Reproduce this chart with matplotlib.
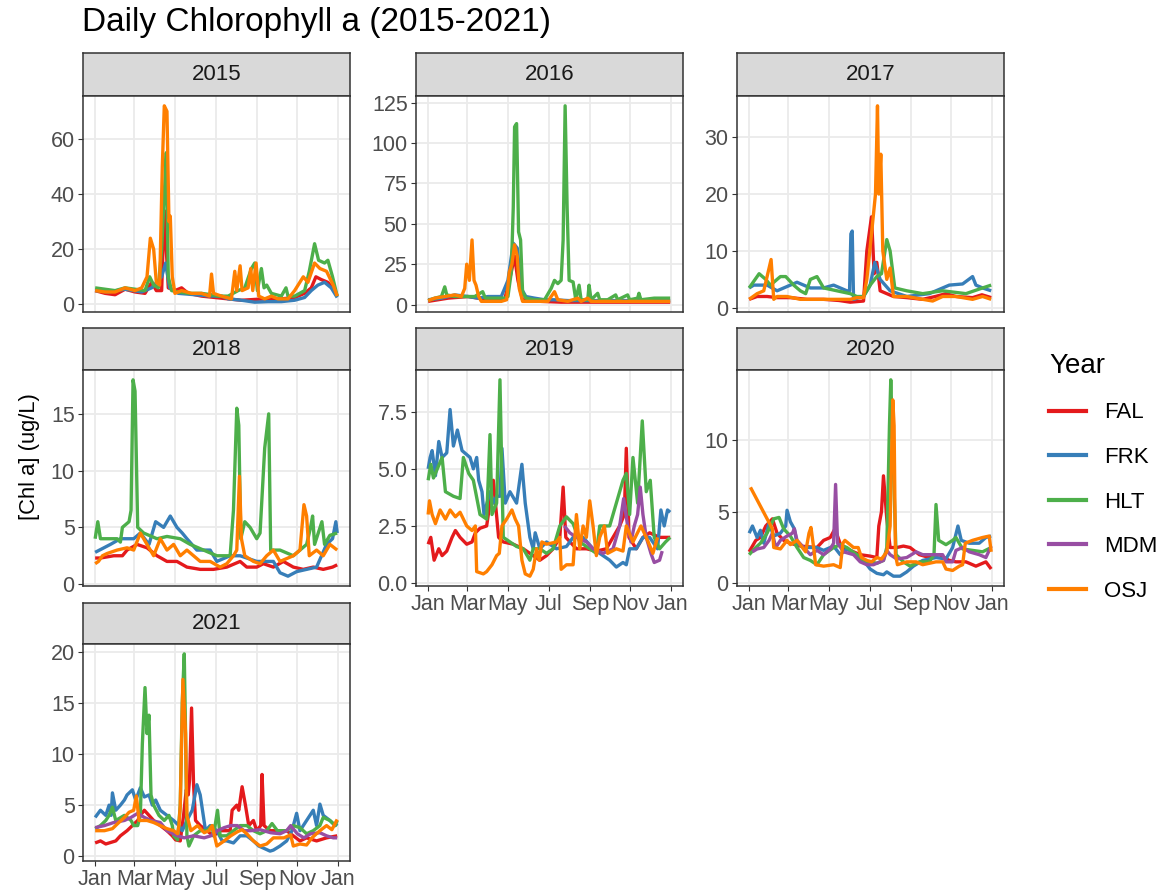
import matplotlib
matplotlib.use("Agg")
import matplotlib.pyplot as plt
from matplotlib.lines import Line2D
from matplotlib.ticker import FixedLocator, FixedFormatter

plt.rcParams['font.family'] = ['Liberation Sans', 'DejaVu Sans']

# ---------------- data (day of year, Chl a ug/L) ----------------
stations = ['FAL', 'FRK', 'HLT', 'MDM', 'OSJ']
station_colors = ['#E41A1C', '#377EB8', '#4DAF4A', '#984EA3', '#FF7F00']
years = [2015, 2016, 2017, 2018, 2019, 2020, 2021]
month_ticks = [0, 59, 120, 181, 243, 304, 365]
month_labels = ['Jan', 'Mar', 'May', 'Jul', 'Sep', 'Nov', 'Jan']
ytick_2015 = [0, 20, 40, 60]
ytick_2016 = [0, 25, 50, 75, 100, 125]
ytick_2017 = [0, 10, 20, 30]
ytick_2018 = [0, 5, 10, 15]
ytick_2019 = [0.0, 2.5, 5.0, 7.5]
ytick_2020 = [0, 5, 10]
ytick_2021 = [0, 5, 10, 15, 20]

FAL_2015 = [(0,5),(15,4),(30,3.5),(45,5.5),(60,4.5),(75,4),(85,8),(92,5),(100,5),(104,34),(107,20),(110,6),(120,5),(130,6),(140,4),(160,3),(180,2.5),(200,2),(220,1.5),(240,1.8),(260,2),(280,2),(300,2.5),(315,4),(325,6),(332,10),(340,9),(350,8),(360,5),(364,3)]
FRK_2015 = [(0,5),(20,4.5),(45,5.5),(70,4.5),(85,6),(100,10),(106,15),(112,6),(125,4),(150,3.5),(175,3),(190,3),(200,2),(220,1.5),(240,0.8),(260,1),(280,1),(300,1.5),(315,2.5),(325,5),(335,7),(345,8),(355,6),(364,2.5)]
HLT_2015 = [(0,6),(15,5.5),(30,5),(45,6),(60,5.5),(75,5),(82,10),(88,7),(95,6),(100,20),(104,40),(107,55),(110,10),(115,5),(125,4.5),(140,4),(160,4),(175,3.5),(185,3),(200,3),(215,5),(225,6),(235,13),(240,15),(244,5),(250,13),(254,6),(258,7),(265,4),(280,3),(287,6),(290,3),(300,3),(315,5),(322,12),(330,22),(336,16),(345,15),(350,16),(357,10),(364,3)]
OSJ_2015 = [(0,5),(15,4.5),(30,4.5),(45,6),(60,5),(70,6),(78,10),(83,24),(88,20),(92,8),(97,7),(101,50),(104,72),(108,70),(111,30),(113,32),(116,10),(120,4),(130,5),(145,4),(160,4),(172,3),(175,11),(178,4),(190,3),(205,2),(210,12),(213,5),(218,14),(221,5),(230,6),(234,13),(237,5),(242,15),(246,3),(255,2),(265,3),(275,2),(290,2),(300,5),(313,10),(320,8),(330,15),(338,13),(348,12),(358,7),(364,3)]

FAL_2016 = [(0,2),(30,4),(60,5),(90,3),(115,3),(125,20),(130,30),(135,15),(142,3),(170,2),(200,1.5),(250,1.5),(300,1.5),(364,1.5)]
FRK_2016 = [(0,3),(20,4),(40,6),(60,5),(75,4),(90,5),(110,5),(120,15),(128,38),(134,35),(140,10),(147,5),(160,4),(175,3),(190,3),(210,2.5),(250,2.5),(300,2.5),(364,2.5)]
HLT_2016 = [(0,2.5),(10,4),(20,5),(25,11),(28,6),(40,5),(55,5),(70,5),(82,8),(86,4),(100,4),(115,4),(120,5),(125,20),(128,60),(130,110),(133,112),(136,45),(139,40),(142,8),(147,4),(160,3),(175,3),(185,10),(190,15),(195,13),(200,15),(203,40),(206,123),(209,60),(212,15),(218,14),(222,3),(227,12),(230,3),(240,3),(242,12),(245,3),(255,7),(258,3),(270,3),(282,6),(285,3),(300,6),(303,3),(315,4),(317,7),(320,3),(340,4),(364,4)]
OSJ_2016 = [(0,2.5),(10,4),(25,5),(40,6),(50,5),(55,10),(58,25),(62,15),(66,40),(69,15),(72,12),(76,5),(80,2),(95,2),(110,2),(118,3),(122,20),(126,25),(130,37),(134,30),(137,10),(142,2),(160,2),(180,2),(190,8),(195,3),(210,2),(225,4),(230,2),(240,4),(245,2),(280,2),(320,2),(364,2)]

FAL_2017 = [(0,1.5),(12,2),(27,2),(42,1.8),(62,1.8),(87,1.5),(112,1.5),(135,1.3),(152,1),(172,1.2),(177,10),(184,16),(188,6),(192,8),(197,3),(217,2),(237,1.8),(261,1.5),(280,2),(296,2.5),(311,2),(336,1.8),(350,2.3),(364,1.8)]
FRK_2017 = [(0,3.5),(7,4),(27,4),(42,3),(62,4),(72,4.5),(92,3.5),(112,3.5),(127,4),(147,3),(151,3),(153,13),(155,13.5),(157,1.5),(172,2),(182,4),(189,8),(197,5),(212,3),(237,2),(271,2.5),(301,4),(321,4.2),(336,5.5),(341,4),(351,3.5),(364,3)]
HLT_2017 = [(0,3.5),(15,6),(25,5),(32,4),(47,5.5),(55,5.5),(67,4),(77,3),(85,2.5),(92,5),(102,5.5),(112,3.5),(132,3),(152,2.5),(162,2),(172,2),(182,4),(192,5.5),(199,6),(207,12),(212,10),(219,3.5),(237,3),(261,2.5),(291,3),(326,2.5),(351,3.5),(364,4)]
OSJ_2017 = [(0,1.5),(12,2.5),(22,3),(33,8.5),(37,1.5),(42,2),(57,2),(77,1.5),(100,1.5),(120,1.5),(152,1.5),(162,1.8),(172,1.8),(177,5),(184,13),(190,20),(193,35.5),(195,20),(198,27),(201,10),(207,5),(212,7),(217,2),(237,2),(261,1.5),(276,1.2),(291,2),(311,2),(336,1.5),(351,2),(364,1.5)]

FAL_2018 = [(0,2.3),(8,2.3),(28,2.5),(41,2.5),(48,3),(63,3.5),(78,3.2),(93,2.5),(108,2),(123,2),(138,1.5),(158,1.3),(178,1.3),(198,1.5),(218,2),(228,1.5),(243,1.5),(253,1.8),(268,1.5),(283,2),(298,1.5),(313,1.3),(328,1.5),(343,1.3),(357,1.5),(364,1.7)]
FRK_2018 = [(0,2.8),(23,3.5),(38,4),(58,4),(68,4.5),(81,3.5),(91,5.5),(103,5),(113,6),(123,5),(131,4.5),(138,4),(153,3),(173,3),(183,2),(203,2.5),(218,2.5),(243,2),(268,2),(278,1),(290,0.7),(303,1.1),(318,1.3),(333,1.5),(348,3.5),(357,4),(362,5.5),(364,4.5)]
HLT_2018 = [(0,4),(4,5.5),(8,4),(18,4),(33,4),(38,3.7),(41,5),(51,5.5),(54,6.5),(57,18),(60,17),(64,5),(73,4.5),(93,4),(108,4.2),(128,4),(143,3.5),(163,3),(183,2.5),(203,2.5),(208,6.5),(213,15.5),(216,14),(219,4),(225,5.5),(233,5),(243,4),(248,4.5),(255,12),(261,15),(264,3),(278,3),(298,2.5),(308,3),(318,3.5),(324,5),(327,6),(330,3.5),(341,5.5),(345,3.5),(353,4.3),(364,4.5)]
OSJ_2018 = [(0,1.8),(5,2),(11,2.5),(18,2.7),(33,3),(48,3.2),(58,3),(68,4.5),(78,3.5),(88,2.5),(98,4),(108,3),(118,3.5),(128,2.5),(138,3),(148,2.5),(158,2),(173,2),(188,1.5),(198,1.8),(208,2.5),(213,3),(217,9.5),(220,4),(225,2.5),(238,2),(248,1.8),(258,2.5),(268,3),(278,2),(298,2.5),(308,3),(314,7),(318,6),(322,2.5),(333,3),(343,2.5),(353,3.5),(364,3)]

FAL_2019 = [(0,1.7),(4,2),(9,1),(16,1.5),(21,1.2),(28,1.4),(36,2),(41,2.3),(48,2),(58,1.7),(66,1.8),(71,2.2),(78,2.4),(88,2.5),(98,4.5),(106,2),(113,1.8),(128,1.7),(143,1.5),(153,1.3),(168,1),(178,1.2),(188,1.5),(198,2),(203,4.2),(207,2),(223,1.5),(238,1.5),(253,1.4),(268,1.5),(278,2),(288,2.5),(295,3),(298,5.9),(302,2),(313,1.5),(323,2),(333,2.2),(348,2),(364,2)]
FRK_2019 = [(0,5),(3,5.5),(6,5.8),(11,4.7),(16,6.2),(21,5.5),(28,5.7),(33,7.6),(38,6),(44,6.7),(51,5.8),(63,5.5),(68,5),(73,5.5),(76,4.5),(81,4),(84,3),(93,4),(98,3.5),(103,3.8),(108,3.8),(111,5.9),(116,3.5),(123,4),(133,3.5),(141,5.2),(146,3.5),(153,2),(158,1.5),(161,2.2),(168,1.5),(178,1.8),(193,1.5),(208,1.6),(218,2),(233,2),(248,1.5),(263,1.2),(273,1),(283,0.7),(293,0.9),(298,0.8),(303,1.5),(313,1.5),(323,2),(333,2),(345,1.5),(350,3.2),(355,2.5),(360,3.2),(364,3.1)]
HLT_2019 = [(0,4.5),(4,5.2),(8,4.6),(21,5.5),(26,4),(38,3.8),(48,3.7),(53,5.5),(61,4.8),(68,4.5),(78,3),(88,2.8),(93,6.5),(96,3),(103,3.5),(108,8.9),(111,4.5),(113,2),(123,1.8),(133,1.6),(143,1.5),(153,1),(158,1.5),(168,1.5),(178,1.3),(188,1.5),(198,2.5),(208,2.9),(218,2.6),(223,2.2),(228,1.8),(243,1.5),(253,1.3),(258,2.5),(273,2.5),(283,3.5),(293,4.5),(298,4.8),(303,3),(308,5.5),(315,3.5),(322,7.1),(328,4),(334,4.5),(340,2),(348,1.5),(357,1.8),(364,2)]
MDM_2019 = [(205,2.5),(213,2.2),(223,2),(238,1.8),(248,1.5),(263,1.3),(278,1.5),(288,2.5),(294,3.7),(300,2.5),(305,1.8),(310,2.5),(315,3),(319,4.2),(323,3),(328,2),(335,1.3),(340,0.9),(348,1),(352,1.4)]
OSJ_2019 = [(0,3),(2,3.6),(6,3),(11,2.6),(18,3.2),(26,2.8),(33,3.2),(41,2.9),(48,3.1),(58,2.5),(66,2.3),(71,2.5),(73,0.5),(83,0.4),(88,0.5),(96,0.8),(103,1.2),(107,1.3),(111,2.5),(118,2.8),(126,3.2),(131,2.8),(136,2.5),(141,1),(146,0.4),(153,0.3),(158,0.6),(163,1.5),(167,1),(171,1.8),(178,1.7),(193,1.8),(198,2),(200,0.6),(208,0.8),(218,0.8),(223,3),(228,1.5),(233,2.5),(238,2),(243,3.6),(248,2.5),(253,1.2),(258,2),(265,2.5),(270,1.3),(283,1.5),(293,1.4),(298,2.5),(308,1.8),(320,2.5),(328,2),(338,1.3),(345,2)]

FAL_2020 = [(0,2.2),(10,3),(17,3.2),(25,4),(35,4.5),(42,3.5),(52,3),(62,2.8),(77,2.6),(102,2.5),(112,3),(122,3.2),(129,3.8),(139,2.5),(152,2.3),(167,2),(182,1.9),(192,1.8),(195,4),(199,5),(202,7.5),(207,4.5),(212,2.5),(222,2.5),(232,2.6),(242,2.5),(256,2),(271,1.8),(286,2),(301,1.6),(311,1.5),(326,1.5),(341,1.2),(356,1.5),(364,1)]
FRK_2020 = [(0,3.5),(5,4),(12,3.2),(17,3.7),(22,2.8),(30,4.2),(37,3.3),(47,3.5),(55,4),(57,5.1),(62,4.3),(68,3.8),(72,2.8),(82,2.5),(102,2.5),(112,2.3),(127,2.6),(137,2),(147,2.4),(162,2),(177,1.3),(182,1),(192,0.7),(202,0.6),(207,0.8),(217,0.5),(227,0.5),(237,0.8),(247,1.2),(261,1.6),(281,1.8),(296,1.7),(306,2.5),(314,4),(319,3),(331,2.8),(346,2.8),(356,3.2),(364,3.3)]
HLT_2020 = [(0,2),(10,2.5),(17,2.8),(27,3.5),(37,4.5),(45,4.6),(52,3.8),(62,3.3),(72,2.5),(82,1.8),(92,1.6),(102,1.3),(112,2),(127,2.5),(137,2.7),(147,2.5),(162,2),(172,1.5),(182,1.5),(192,1.4),(202,1.6),(207,2.5),(211,11),(213,14.2),(217,8),(221,2),(232,1.5),(242,1.2),(256,1.5),(271,1.5),(278,2),(281,5.5),(285,3),(296,2.7),(306,3),(311,3.2),(321,2.4),(336,2.3),(351,2.2),(364,2.5)]
MDM_2020 = [(5,2.2),(12,2.4),(22,2.5),(30,3),(35,3.5),(40,2.5),(47,3),(57,3.3),(65,3.5),(68,3.8),(72,3),(82,2.5),(92,2),(102,2.3),(112,2),(122,2.4),(127,2.8),(130,6.9),(133,2.8),(142,2.2),(157,2),(167,1.5),(177,1.3),(187,1.3),(202,1.6),(207,2.3),(212,2),(222,1.7),(237,1.8),(251,2.2),(261,2),(276,2),(291,2),(296,1.5),(306,1.5),(311,2.3),(321,2.5),(331,2.2),(346,2),(356,1.8),(364,2.6)]
OSJ_2020 = [(2,6.7),(35,3.8),(37,2.5),(47,2.4),(57,3),(62,2.7),(72,3),(80,2.5),(85,2.2),(90,3.5),(93,3.9),(97,2.5),(100,1.3),(112,1.2),(127,1.3),(137,1.1),(141,2.8),(144,3),(157,2.5),(164,2.5),(169,1.8),(177,1.6),(184,1.5),(192,1.8),(199,1.7),(207,2.2),(212,4),(216,12.8),(218,11),(220,2),(223,1.3),(237,1.5),(251,1.5),(261,1.3),(281,1.5),(291,1.5),(296,1),(306,0.9),(316,1.2),(321,1.3),(325,2.8),(336,3),(351,3.2),(361,3.3),(364,2.2)]

FAL_2021 = [(0,1.3),(8,1.5),(16,1.2),(26,1.4),(31,1.5),(38,2),(48,2.5),(56,3),(64,3.5),(68,4),(74,4.5),(81,4),(88,3.5),(98,3),(108,2.5),(116,2),(121,1.6),(128,1.5),(133,4),(137,6.5),(140,6),(142,7.5),(145,14.5),(148,7),(151,3.5),(158,3),(168,2.5),(178,2),(188,2.5),(203,2.5),(206,4.5),(213,5),(216,4.5),(221,6.8),(226,5),(231,3),(238,3.5),(243,2.5),(249,3),(251,8),(254,3),(263,2.5),(278,2.5),(288,2.5),(298,2),(308,1.5),(318,1.8),(333,1.5),(348,1.8),(364,2)]
FRK_2021 = [(0,3.8),(8,4.5),(16,4),(21,5),(24,4),(26,6.2),(31,4.5),(38,5),(44,5.5),(48,6),(56,6.5),(61,5.5),(68,6.7),(74,5.8),(81,6),(86,5),(91,5.5),(98,4.5),(108,4),(118,3.5),(126,3),(131,2.5),(138,3.5),(146,4.5),(153,7),(158,6),(166,2.5),(173,3),(183,2.5),(191,1.5),(198,1.5),(208,1.3),(218,2),(228,2),(238,1.5),(246,1),(253,0.8),(263,0.5),(268,0.6),(278,1),(288,1.5),(296,2.5),(303,4.2),(308,2.5),(318,3.5),(328,4.5),(333,3),(338,5.1),(343,4),(353,3.5),(361,3),(364,3.2)]
HLT_2021 = [(0,2.7),(8,3),(16,3.5),(21,4),(26,4.8),(31,3.5),(44,4),(54,3.5),(58,3),(64,3),(68,4),(71,11),(75,16.5),(78,12),(81,13.8),(84,6),(88,5),(96,4),(104,3.5),(111,4),(116,3),(118,2),(124,1.6),(128,5),(131,15),(134,19.8),(136,12),(138,2),(141,1),(148,2),(158,2.5),(168,2.5),(176,3),(178,2),(184,4.5),(188,2),(198,2),(208,2.5),(218,3),(228,3),(238,2.5),(248,2.2),(258,2.5),(266,3.2),(274,2.5),(288,2.5),(298,3),(308,2.8),(318,2.2),(328,2.5),(338,3),(343,3.8),(353,3.5),(361,3),(364,3.5)]
MDM_2021 = [(0,2.8),(14,3),(28,3.3),(44,3.5),(54,3.8),(64,4.2),(74,3.8),(84,3.5),(98,3.3),(108,2.5),(124,2),(134,1.8),(148,2),(164,1.8),(174,2),(184,2.5),(194,2.8),(204,3),(214,3),(224,2.5),(234,2.5),(248,2.6),(264,2.3),(278,2.2),(288,2.5),(294,3),(304,2.2),(314,1.8),(324,2.2),(338,2.3),(348,2),(358,1.8),(364,1.8)]
OSJ_2021 = [(0,2.5),(14,2.5),(26,2.7),(34,3.2),(44,3.8),(51,4.3),(58,4.5),(62,5.9),(66,3.5),(78,3.5),(88,3.3),(98,3),(108,2.7),(118,2.5),(124,2.2),(126,3),(128,5),(132,17.3),(136,12),(138,4),(144,2.5),(154,3),(164,2.3),(171,2.5),(176,3),(183,1),(194,1.5),(204,2),(214,2.4),(221,2.6),(228,2.2),(238,1.5),(248,1),(258,1.2),(268,1.8),(284,1.8),(294,2.1),(298,1),(308,1.2),(318,1.1),(326,1.8),(338,2.5),(348,3),(356,2.6),(364,3.6)]

series = {
    2015: [FAL_2015, FRK_2015, HLT_2015, None, OSJ_2015],
    2016: [FAL_2016, FRK_2016, HLT_2016, None, OSJ_2016],
    2017: [FAL_2017, FRK_2017, HLT_2017, None, OSJ_2017],
    2018: [FAL_2018, FRK_2018, HLT_2018, None, OSJ_2018],
    2019: [FAL_2019, FRK_2019, HLT_2019, MDM_2019, OSJ_2019],
    2020: [FAL_2020, FRK_2020, HLT_2020, MDM_2020, OSJ_2020],
    2021: [FAL_2021, FRK_2021, HLT_2021, MDM_2021, OSJ_2021],
}
yticks = {2015: ytick_2015, 2016: ytick_2016, 2017: ytick_2017, 2018: ytick_2018,
          2019: ytick_2019, 2020: ytick_2020, 2021: ytick_2021}

# ---------------- layout (pixels) ----------------
W, H = 1164, 896
fig = plt.figure(figsize=(W / 100, H / 100), dpi=100)
fig.patch.set_facecolor('white')

col_x = [(83, 350), (416, 683), (737, 1004)]
row_y = [(53, 96, 312), (328, 370, 586), (603, 644, 861)]
bottom_years = {2019, 2020, 2021}

def fx(x):
    return x / W

def fy(y):
    return 1 - y / H

BORDER = '#333333'
TICKTXT = '#4D4D4D'
TICK_FS = 15.5

for i, yr in enumerate(years):
    r, c = divmod(i, 3)
    x0, x1 = col_x[c]
    s0, s1, p1 = row_y[r]
    # strip
    sax = fig.add_axes([fx(x0), fy(s1), fx(x1) - fx(x0), fy(s0) - fy(s1)])
    sax.set_facecolor('#D9D9D9')
    sax.set_xticks([]); sax.set_yticks([])
    for sp in sax.spines.values():
        sp.set_color(BORDER); sp.set_linewidth(1.1)
    sax.text(0.5, 0.5, str(yr), ha='center', va='center', fontsize=16, color='#1A1A1A',
             transform=sax.transAxes)
    # panel
    ax = fig.add_axes([fx(x0), fy(p1), fx(x1) - fx(x0), fy(s1) - fy(p1)])
    ax.set_facecolor('white')
    for k, st in enumerate(stations):
        data = series[yr][k]
        if data is None:
            continue
        xs = [d[0] for d in data]
        ys = [d[1] for d in data]
        ax.plot(xs, ys, color=station_colors[k], lw=2.4, solid_joinstyle='round',
                solid_capstyle='butt', zorder=3)
    ax.set_xlim(-0.05 * 365, 365 * 1.05)
    ax.margins(y=0.05)
    ax.autoscale(axis='y')
    ax.yaxis.set_major_locator(FixedLocator(yticks[yr]))
    if yr == 2019:
        ax.yaxis.set_major_formatter(FixedFormatter([f'{v:.1f}' for v in yticks[yr]]))
    else:
        ax.yaxis.set_major_formatter(FixedFormatter([f'{v:g}' for v in yticks[yr]]))
    ax.xaxis.set_major_locator(FixedLocator(month_ticks))
    ax.grid(True, color='#EBEBEB', lw=1.3, zorder=0)
    ax.set_axisbelow(True)
    for sp in ax.spines.values():
        sp.set_color(BORDER); sp.set_linewidth(1.1)
    ax.tick_params(axis='y', direction='out', length=3.5, width=0.8, color=BORDER,
                   labelcolor=TICKTXT, labelsize=TICK_FS, pad=2.5)
    if yr in bottom_years:
        ax.xaxis.set_major_formatter(FixedFormatter(month_labels))
        ax.tick_params(axis='x', direction='out', length=3.5, width=0.8, color=BORDER,
                       labelcolor=TICKTXT, labelsize=TICK_FS, pad=2.5)
    else:
        ax.tick_params(axis='x', length=0, labelbottom=False)

# title & axis label
fig.text(fx(82), fy(31), 'Daily Chlorophyll a (2015-2021)', fontsize=24, color='black',
         ha='left', va='baseline')
fig.text(fx(29), fy(457), '[Chl a] (ug/L)', fontsize=15.8, color='black', rotation=90,
         ha='center', va='center')

# legend
handles = [Line2D([0], [0], color=c, lw=3) for c in station_colors]
leg = fig.legend(handles, stations, title='Year', loc='upper left',
                 bbox_to_anchor=(fx(1040), fy(344)), frameon=False,
                 fontsize=16, title_fontsize=20, handlelength=1.65,
                 handletextpad=0.85, labelspacing=1.06, borderaxespad=0,
                 alignment='left')

fig.savefig('out.png', dpi=100, facecolor='white')
